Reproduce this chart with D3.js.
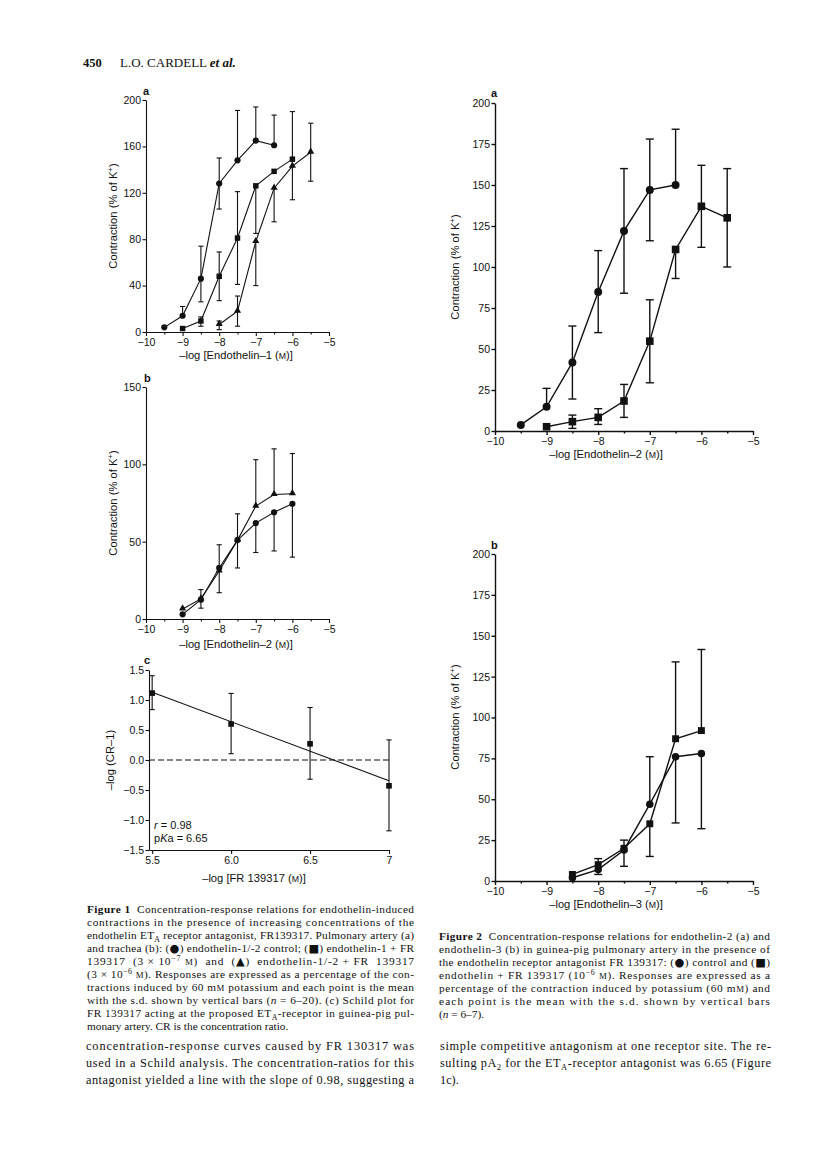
<!DOCTYPE html>
<html><head><meta charset="utf-8">
<script src="https://cdn.jsdelivr.net/npm/d3@7/dist/d3.min.js"></script>
<style>
body{margin:0;background:#fff;}
svg{display:block;background:#fff;}
</style></head>
<body>
<svg id="page" width="816" height="1163"></svg>
<script>
// ---------- DATA ----------
const X_TICKS_ET = [-10, -9, -8, -7, -6, -5];
const X_LABELS_ET = ["−10", "−9", "−8", "−7", "−6", "−5"];
const X_MINOR_ET = [-9.5, -8.5, -7.5, -6.5, -5.5];

// Figure 1a (endothelin-1)
const F1A_Y_TICKS = [0, 40, 80, 120, 160, 200];
const F1A_CTRL_X = [-9.5, -9, -8.5, -8, -7.5, -7, -6.5];
const F1A_CTRL_Y = [4, 14, 46, 128, 148, 165, 161];
const F1A_CTRL_UP = [null, 22, 74, 150, 191, 194, 187];
const F1A_CTRL_LO = [null, null, 26, 106, null, null, null];
const F1A_LOW_X = [-9, -8.5, -8, -7.5, -7, -6.5, -6];
const F1A_LOW_Y = [3, 9.5, 48, 81, 126, 138.5, 149];
const F1A_LOW_UP = [null, 13, 69, 121, null, null, 190];
const F1A_LOW_LO = [null, 5, 27, 41, 85, null, 114];
const F1A_HIGH_X = [-8, -7.5, -7, -6.5, -6, -5.5];
const F1A_HIGH_Y = [6.5, 18, 78, 124, 143, 155];
const F1A_HIGH_UP = [9.5, 31, null, null, null, 180];
const F1A_HIGH_LO = [2, 5, 40, 95, null, 130];

// Figure 1b (endothelin-2, trachea)
const F1B_Y_TICKS = [0, 50, 100, 150];
const F1B_X = [-9, -8.5, -8, -7.5, -7, -6.5, -6];
const F1B_CTRL_Y = [3, 12.5, 33, 51, 62, 69, 74.5];
const F1B_CTRL_UP = [null, 19, 48, 68, null, null, null];
const F1B_CTRL_LO = [null, 7, 17, 33, 43, 44, 40];
const F1B_HIGH_Y = [6.5, 13, 31, 51, 73, 80.5, 81];
const F1B_HIGH_UP = [null, null, null, null, 103, 110, 107];
const F1B_HIGH_LO = [null, null, null, null, null, null, null];

// Figure 1c (Schild plot)
const F1C_X_DOMAIN = [5.48, 7];
const F1C_X_TICKS = [5.5, 6.0, 6.5, 7];
const F1C_X_LABELS = ["5.5", "6.0", "6.5", "7"];
const F1C_Y_TICKS = [-1.5, -1.0, -0.5, 0, 0.5, 1.0, 1.5];
const F1C_Y_LABELS = ["−1.5", "−1.0", "−0.5", "0.0", "0.5", "1.0", "1.5"];
const F1C_X = [5.5, 6.0, 6.5, 7.0];
const F1C_Y = [1.115, 0.60, 0.27, -0.43];
const F1C_UP = [1.405, 1.11, 0.875, 0.335];
const F1C_LO = [0.84, 0.105, -0.32, -1.18];
const F1C_FIT_X = [5.5, 7.0];
const F1C_FIT_Y = [1.13, -0.345];

// Figure 2a (endothelin-2)
const F2_Y_TICKS = [0, 25, 50, 75, 100, 125, 150, 175, 200];
const F2A_CTRL_X = [-9.5, -9, -8.5, -8, -7.5, -7, -6.5];
const F2A_CTRL_Y = [3.7, 14.8, 41.8, 84.7, 122, 147, 150];
const F2A_CTRL_UP = [null, 26, 64, 110, 160, 178, 184];
const F2A_CTRL_LO = [null, null, 19.5, 60, 84, 116, null];
const F2A_FR_X = [-9, -8.5, -8, -7.5, -7, -6.5, -6, -5.5];
const F2A_FR_Y = [2.6, 5.7, 8.3, 18.3, 54.8, 110.7, 137, 130];
const F2A_FR_UP = [null, 9.7, 13.6, 28.4, 80, null, 162, 160];
const F2A_FR_LO = [null, 1.6, 4, 8.3, 29.4, 93, 112, 100];

// Figure 2b (endothelin-3)
const F2B_X = [-8.5, -8, -7.5, -7, -6.5, -6];
const F2B_CTRL_Y = [2, 7, 19, 47, 76, 78];
const F2B_CTRL_UP = [null, null, null, 76, null, null];
const F2B_CTRL_LO = [null, 4, 9, null, 35.5, 32];
const F2B_FR_Y = [4, 10, 20, 35, 87, 92];
const F2B_FR_UP = [null, 13.7, 25, null, 134, 141.6];
const F2B_FR_LO = [null, null, null, 15, null, null];

// Texts
const CAPTION_1 = [
  "**Figure 1**  Concentration-response relations for endothelin-induced",
  "contractions in the presence of increasing concentrations of the",
  "endothelin ET~A~ receptor antagonist, FR139317. Pulmonary artery (a)",
  "and trachea (b): (@●@) endothelin-1/-2 control; (@■@) endothelin-1 + FR",
  "139317  (3 × 10^−7^ {M})  and  (@▲@)  endothelin-1/-2 + FR  139317",
  "(3 × 10^−6^ {M}). Responses are expressed as a percentage of the con-",
  "tractions induced by 60 m{M} potassium and each point is the mean",
  "with the s.d. shown by vertical bars (_n_ = 6–20). (c) Schild plot for",
  "FR 139317 acting at the proposed ET~A~-receptor in guinea-pig pul-",
  "monary artery. CR is the concentration ratio."
];
const CAPTION_2 = [
  "**Figure 2**  Concentration-response relations for endothelin-2 (a) and",
  "endothelin-3 (b) in guinea-pig pulmonary artery in the presence of",
  "the endothelin receptor antagonist FR 139317: (@●@) control and (@■@)",
  "endothelin + FR 139317 (10^−6^ {M}). Responses are expressed as a",
  "percentage of the contraction induced by potassium (60 m{M}) and",
  "each point is the mean with the s.d. shown by vertical bars",
  "(_n_ = 6–7)."
];
const BODY_LEFT = [
  "concentration-response curves caused by FR 130317 was",
  "used in a Schild analysis. The concentration-ratios for this",
  "antagonist yielded a line with the slope of 0.98, suggesting a"
];
const BODY_RIGHT = [
  "simple competitive antagonism at one receptor site. The re-",
  "sulting pA~2~ for the ET~A~-receptor antagonist was 6.65 (Figure",
  "1c)."
];

// ---------- DRAWING ----------
const svg = d3.select("#page");
const SANS = "'Liberation Sans', Arial, Helvetica, sans-serif";
const SERIF = "'Liberation Serif', 'Times New Roman', serif";
const INK = "#111";

function addRich(t, str, fs) {
  const parts = str.split(/(\*\*[^*]+\*\*|_[^_]+_|\^[^^]+\^|~[^~]+~|\{[^}]+\}|@[^@]+@)/).filter(s => s.length);
  let shift = 0;
  parts.forEach(p => {
    let txt = p, attrs = {}, dy = 0;
    if (p.startsWith("**")) { txt = p.slice(2, -2); attrs["font-weight"] = "bold"; }
    else if (p.startsWith("_")) { txt = p.slice(1, -1); attrs["font-style"] = "italic"; }
    else if (p.startsWith("^")) { txt = p.slice(1, -1); attrs["font-size"] = fs * 0.7; dy = -fs * 0.38; }
    else if (p.startsWith("~")) { txt = p.slice(1, -1); attrs["font-size"] = fs * 0.7; dy = fs * 0.25; }
    else if (p.startsWith("{")) { txt = p.slice(1, -1); attrs["font-size"] = fs * 0.78; }
    else if (p.startsWith("@")) { txt = p.slice(1, -1); attrs["font-size"] = fs * 1.0; attrs["font-family"] = "'DejaVu Sans', sans-serif"; }
    const ts = t.append("tspan").text(txt);
    Object.entries(attrs).forEach(([k, v]) => ts.attr(k, v));
    const d = dy - shift;
    if (d !== 0) ts.attr("dy", d);
    shift = dy;
  });
}

function textBlock(lines, x, y0, lh, fs, width, justifyLast) {
  lines.forEach((ln, i) => {
    const t = svg.append("text").attr("x", x).attr("y", y0 + i * lh)
      .attr("font-family", SERIF).attr("font-size", fs).attr("fill", INK)
      .attr("xml:space", "preserve");
    addRich(t, ln, fs);
    if (i < lines.length - 1 || justifyLast) t.attr("textLength", width).attr("lengthAdjust", "spacing");
  });
}

function panel(cfg) {
  const g = svg.append("g");
  const x = d3.scaleLinear().domain(cfg.xDomain).range(cfg.xRange);
  const y = d3.scaleLinear().domain(cfg.yDomain).range(cfg.yRange);
  const lw = cfg.lw;

  // error bars
  cfg.series.forEach(s => {
    s.pts.forEach(p => {
      [p.up, p.lo].forEach(e => {
        if (e === null || e === undefined) return;
        g.append("line").attr("x1", x(p.x)).attr("x2", x(p.x)).attr("y1", y(p.y)).attr("y2", y(e))
          .attr("stroke", INK).attr("stroke-width", lw);
        g.append("line").attr("x1", x(p.x) - cfg.cap).attr("x2", x(p.x) + cfg.cap).attr("y1", y(e)).attr("y2", y(e))
          .attr("stroke", INK).attr("stroke-width", lw);
      });
    });
  });
  // connecting lines
  if (cfg.connect) {
    cfg.series.forEach(s => {
      g.append("path").datum(s.pts)
        .attr("d", d3.line().x(d => x(d.x)).y(d => y(d.y)))
        .attr("fill", "none").attr("stroke", INK).attr("stroke-width", lw);
    });
  }
  if (cfg.extra) cfg.extra(g, x, y);
  // markers
  cfg.series.forEach(s => {
    const sym = d3.symbol().type(s.shape).size(s.size);
    g.selectAll(null).data(s.pts).join("path")
      .attr("d", sym)
      .attr("transform", d => `translate(${x(d.x)},${y(d.y) + (s.shape === d3.symbolTriangle ? -0.5 : 0)})`)
      .attr("fill", INK);
  });

  // axes
  g.append("g").attr("transform", `translate(0,${cfg.yRange[0]})`)
    .call(d3.axisBottom(x).tickValues(cfg.xTicks).tickFormat((d, i) => cfg.xLabels[i]).tickSize(4).tickPadding(2.5).tickSizeOuter(0));
  if (cfg.xMinor) {
    g.append("g").attr("transform", `translate(0,${cfg.yRange[0]})`)
      .call(d3.axisBottom(x).tickValues(cfg.xMinor).tickFormat("").tickSize(2.5).tickSizeOuter(0))
      .call(a => a.select(".domain").remove());
  }
  g.append("g").attr("transform", `translate(${cfg.xRange[0]},0)`)
    .call(d3.axisLeft(y).tickValues(cfg.yTicks).tickFormat((d, i) => cfg.yLabels[i]).tickSize(3.5).tickPadding(1.5).tickSizeOuter(0));
  g.selectAll(".domain").attr("stroke", INK).attr("stroke-width", lw);
  g.selectAll(".tick line").attr("stroke", INK).attr("stroke-width", lw);
  g.selectAll(".tick text").attr("font-family", SANS).attr("font-size", 10.5).attr("fill", INK);

  // panel letter
  g.append("text").attr("x", cfg.letter[1]).attr("y", cfg.letter[2]).text(cfg.letter[0])
    .attr("font-family", SANS).attr("font-size", 11).attr("font-weight", "bold").attr("fill", INK);
  // x title
  const xt = g.append("text").attr("x", cfg.xTitle[1]).attr("y", cfg.xTitle[2]).attr("text-anchor", "middle")
    .attr("font-family", SANS).attr("font-size", 11.2).attr("fill", INK);
  addRich(xt, cfg.xTitle[0], 11.2);
  // y title
  const yt = g.append("text").attr("transform", `translate(${cfg.yTitle[1]},${cfg.yTitle[2]}) rotate(-90)`)
    .attr("text-anchor", "middle").attr("font-family", SANS).attr("font-size", 11.2).attr("fill", INK);
  addRich(yt, cfg.yTitle[0], 11.2);
}

const mk = (x, y, up, lo, shape, size) => ({ pts: x.map((v, i) => ({ x: v, y: y[i], up: up[i], lo: lo[i] })), shape, size });
const YT_CONTR = "Contraction (% of K^+^)";

// Header
svg.append("text").attr("x", 83).attr("y", 67).text("450")
  .attr("font-family", SERIF).attr("font-size", 12.5).attr("font-weight", "bold").attr("fill", INK);
const hd = svg.append("text").attr("x", 120).attr("y", 67)
  .attr("font-family", SERIF).attr("font-size", 13).attr("fill", INK);
hd.append("tspan").text("L.O. CARDELL ");
hd.append("tspan").text("et al.").attr("font-style", "italic").attr("font-weight", "bold");

// Figure 1a
panel({
  xDomain: [-10, -5], xRange: [146, 329], yDomain: [0, 200], yRange: [332, 100],
  xTicks: X_TICKS_ET, xLabels: X_LABELS_ET, xMinor: X_MINOR_ET,
  yTicks: F1A_Y_TICKS, yLabels: F1A_Y_TICKS.map(String),
  lw: 1.1, cap: 2.6, connect: true,
  series: [
    mk(F1A_CTRL_X, F1A_CTRL_Y, F1A_CTRL_UP, F1A_CTRL_LO, d3.symbolCircle, 30),
    mk(F1A_LOW_X, F1A_LOW_Y, F1A_LOW_UP, F1A_LOW_LO, d3.symbolSquare, 30),
    mk(F1A_HIGH_X, F1A_HIGH_Y, F1A_HIGH_UP, F1A_HIGH_LO, d3.symbolTriangle, 22)
  ],
  letter: ["a", 143, 95],
  xTitle: ["–log [Endothelin–1 ({M})]", 236, 359],
  yTitle: [YT_CONTR, 117, 216]
});

// Figure 1b
panel({
  xDomain: [-10, -5], xRange: [146, 329], yDomain: [0, 150], yRange: [619, 387],
  xTicks: X_TICKS_ET, xLabels: X_LABELS_ET, xMinor: X_MINOR_ET,
  yTicks: F1B_Y_TICKS, yLabels: F1B_Y_TICKS.map(String),
  lw: 1.1, cap: 2.6, connect: true,
  series: [
    mk(F1B_X, F1B_HIGH_Y, F1B_HIGH_UP, F1B_HIGH_LO, d3.symbolTriangle, 22),
    mk(F1B_X, F1B_CTRL_Y, F1B_CTRL_UP, F1B_CTRL_LO, d3.symbolCircle, 30)
  ],
  letter: ["b", 144, 382],
  xTitle: ["–log [Endothelin–2 ({M})]", 236, 648],
  yTitle: [YT_CONTR, 117, 503]
});

// Figure 1c
panel({
  xDomain: F1C_X_DOMAIN, xRange: [149, 389], yDomain: [-1.5, 1.5], yRange: [850, 670],
  xTicks: F1C_X_TICKS, xLabels: F1C_X_LABELS, xMinor: null,
  yTicks: F1C_Y_TICKS, yLabels: F1C_Y_LABELS,
  lw: 1.1, cap: 2.6, connect: false,
  series: [mk(F1C_X, F1C_Y, F1C_UP, F1C_LO, d3.symbolSquare, 32)],
  extra: (g, x, y) => {
    g.append("line").attr("x1", x(F1C_X_DOMAIN[0])).attr("x2", x(F1C_X_DOMAIN[1])).attr("y1", y(0)).attr("y2", y(0))
      .attr("stroke", INK).attr("stroke-width", 1.1).attr("stroke-dasharray", "6,3");
    g.append("line").attr("x1", x(F1C_FIT_X[0])).attr("x2", x(F1C_FIT_X[1]))
      .attr("y1", y(F1C_FIT_Y[0])).attr("y2", y(F1C_FIT_Y[1]))
      .attr("stroke", INK).attr("stroke-width", 1.1);
    const t1 = g.append("text").attr("x", 154).attr("y", 829).attr("font-family", SANS).attr("font-size", 11).attr("fill", INK);
    addRich(t1, "_r_ = 0.98", 11);
    const t2 = g.append("text").attr("x", 154).attr("y", 842).attr("font-family", SANS).attr("font-size", 11).attr("fill", INK);
    addRich(t2, "p_K_a = 6.65", 11);
  },
  letter: ["c", 144, 664],
  xTitle: ["–log [FR 139317 ({M})]", 254, 882],
  yTitle: ["–log (CR–1)", 114, 760]
});

// Figure 2a
panel({
  xDomain: [-10, -5], xRange: [495, 753], yDomain: [0, 200], yRange: [431, 103],
  xTicks: X_TICKS_ET, xLabels: X_LABELS_ET, xMinor: X_MINOR_ET,
  yTicks: F2_Y_TICKS, yLabels: F2_Y_TICKS.map(String),
  lw: 1.4, cap: 4, connect: true,
  series: [
    mk(F2A_CTRL_X, F2A_CTRL_Y, F2A_CTRL_UP, F2A_CTRL_LO, d3.symbolCircle, 50),
    mk(F2A_FR_X, F2A_FR_Y, F2A_FR_UP, F2A_FR_LO, d3.symbolSquare, 58)
  ],
  letter: ["a", 491, 97],
  xTitle: ["–log [Endothelin–2 ({M})]", 606, 458],
  yTitle: [YT_CONTR, 459, 267]
});

// Figure 2b
panel({
  xDomain: [-10, -5], xRange: [495, 753], yDomain: [0, 200], yRange: [881, 554],
  xTicks: X_TICKS_ET, xLabels: X_LABELS_ET, xMinor: X_MINOR_ET,
  yTicks: F2_Y_TICKS, yLabels: F2_Y_TICKS.map(String),
  lw: 1.4, cap: 4, connect: true,
  series: [
    mk(F2B_X, F2B_CTRL_Y, F2B_CTRL_UP, F2B_CTRL_LO, d3.symbolCircle, 44),
    mk(F2B_X, F2B_FR_Y, F2B_FR_UP, F2B_FR_LO, d3.symbolSquare, 48)
  ],
  letter: ["b", 491, 549],
  xTitle: ["–log [Endothelin–3 ({M})]", 606, 908],
  yTitle: [YT_CONTR, 459, 717]
});

// Captions and body text
textBlock(CAPTION_1, 87, 913, 13, 11.3, 327, false);
textBlock(CAPTION_2, 439, 940, 13, 11.3, 331, false);
textBlock(BODY_LEFT, 86, 1050, 17, 12.3, 328, true);
textBlock(BODY_RIGHT, 440, 1050, 17, 12.3, 331, false);
</script>
</body></html>
